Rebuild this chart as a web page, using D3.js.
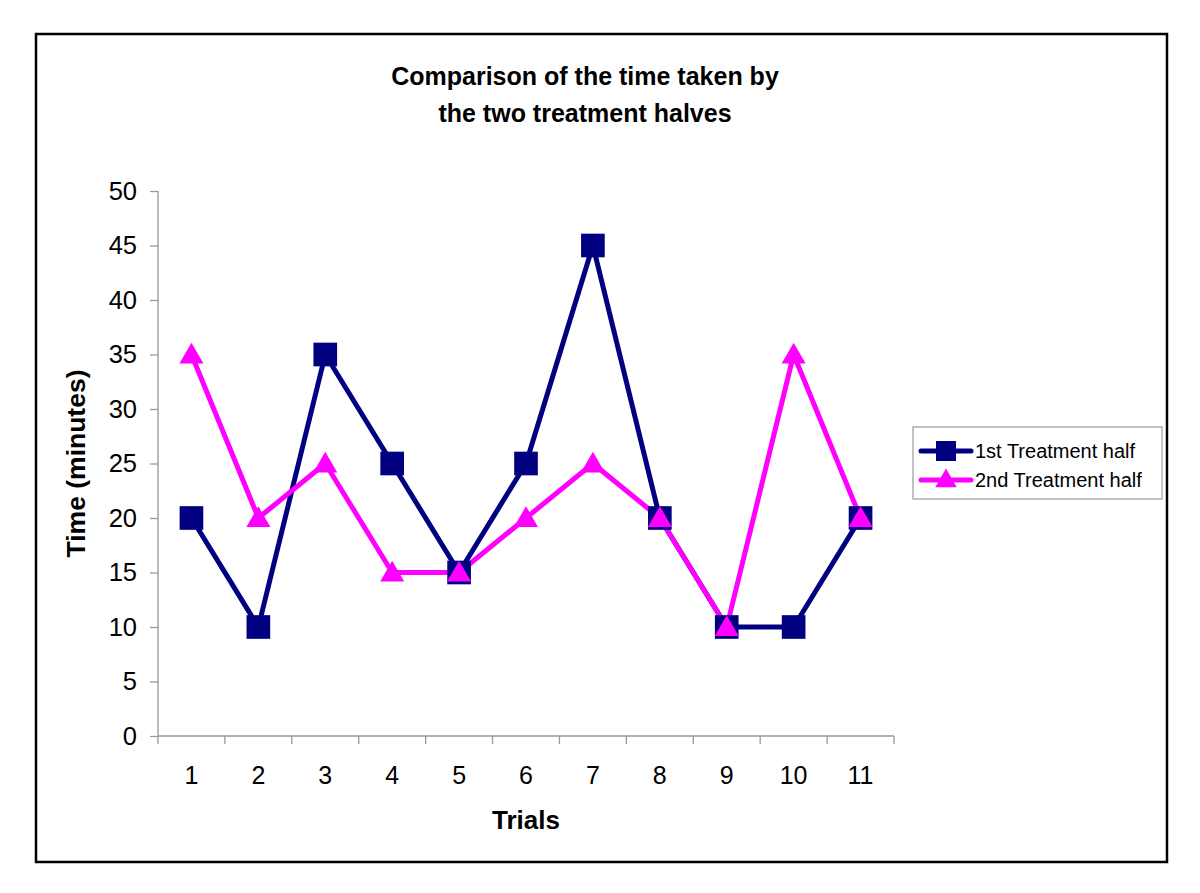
<!doctype html>
<html lang="en">
<head>
<meta charset="UTF-8">
<title>Comparison of the time taken</title>
<script src="https://d3js.org/d3.v7.min.js"></script>
<style>
    body { margin: 0; background: #fff; }
    text { font-family: "Liberation Sans", Arial, sans-serif; fill: #000; }
</style>
</head>
<body>
<svg id="chart" width="1200" height="893"></svg>
<script>
// data
var trials = ["1", "2", "3", "4", "5", "6", "7", "8", "9", "10", "11"];
var firstHalf = [20, 10, 35, 25, 15, 25, 45, 20, 10, 10, 20];
var secondHalf = [35, 20, 25, 15, 15, 20, 25, 20, 10, 35, 20];
var yTicks = [0, 5, 10, 15, 20, 25, 30, 35, 40, 45, 50];
var seriesNames = ["1st Treatment half", "2nd Treatment half"];

var navy = "#000080", pink = "#ff00ff";

var svg = d3.select("#chart");

// outer frame
svg.append("rect")
    .attr("x", 36).attr("y", 34)
    .attr("width", 1131).attr("height", 828)
    .attr("fill", "none").attr("stroke", "#000").attr("stroke-width", 2.5);

// title
svg.append("text")
    .attr("x", 585).attr("y", 85)
    .attr("text-anchor", "middle")
    .style("font-size", "25px").style("font-weight", "bold")
    .text("Comparison of the time taken by");
svg.append("text")
    .attr("x", 585).attr("y", 122)
    .attr("text-anchor", "middle")
    .style("font-size", "25px").style("font-weight", "bold")
    .text("the two treatment halves");

// plot box (window.top is reserved, so prefixed names)
var pLeft = 158, pRight = 894, pTop = 191, pBottom = 736;

var x = d3.scaleBand().domain(trials).range([pLeft, pRight]);
var y = d3.scaleLinear().domain([0, 50]).range([pBottom, pTop]);

// y axis
var yAxis = svg.append("g")
    .attr("transform", "translate(" + pLeft + ",0)")
    .call(d3.axisLeft(y).tickValues(yTicks).tickSize(8).tickPadding(13));
yAxis.selectAll("path, line").attr("stroke", "#999").attr("stroke-width", 1.3);
yAxis.select(".domain").attr("d", "M0," + pTop + "V" + pBottom);
yAxis.selectAll("text")
    .attr("fill", "#000")
    .style("font-size", "25.5px")
    .style("font-family", "Liberation Sans, Arial, sans-serif");

// x axis: ticks sit on the category edges
var xg = svg.append("g").attr("transform", "translate(0," + pBottom + ")");
xg.append("line")
    .attr("x1", pLeft).attr("x2", pRight)
    .attr("stroke", "#999").attr("stroke-width", 1.3);
var edges = trials.map(function (d) { return x(d); }).concat([pRight]);
xg.selectAll(".edge").data(edges).enter().append("line")
    .attr("class", "edge")
    .attr("x1", function (d) { return d; }).attr("x2", function (d) { return d; })
    .attr("y1", 0).attr("y2", 8)
    .attr("stroke", "#999").attr("stroke-width", 1.3);
xg.selectAll(".lbl").data(trials).enter().append("text")
    .attr("class", "lbl")
    .attr("x", function (d) { return x(d) + x.bandwidth() / 2; })
    .attr("y", 48)
    .attr("text-anchor", "middle")
    .style("font-size", "25px")
    .text(function (d) { return d; });

// axis titles
svg.append("text")
    .attr("x", (pLeft + pRight) / 2).attr("y", 829)
    .attr("text-anchor", "middle")
    .style("font-size", "26px").style("font-weight", "bold")
    .text("Trials");
svg.append("text")
    .attr("transform", "translate(85," + (pTop + pBottom) / 2 + ") rotate(-90)")
    .attr("text-anchor", "middle")
    .style("font-size", "26.5px").style("font-weight", "bold")
    .text("Time (minutes)");

var cx = function (d, i) { return x(trials[i]) + x.bandwidth() / 2; };
var line = d3.line().x(cx).y(function (d) { return y(d); });

var square = d3.symbol().type(d3.symbolSquare).size(560);
var triangle = d3.symbol().type(d3.symbolTriangle).size(250);

// 1st half
svg.append("path").datum(firstHalf)
    .attr("d", line).attr("fill", "none")
    .attr("stroke", navy).attr("stroke-width", 5).attr("stroke-linejoin", "round");
// 2nd half
svg.append("path").datum(secondHalf)
    .attr("d", line).attr("fill", "none")
    .attr("stroke", pink).attr("stroke-width", 5).attr("stroke-linejoin", "round");

svg.selectAll(".sq").data(firstHalf).enter().append("path")
    .attr("class", "sq")
    .attr("transform", function (d, i) { return "translate(" + cx(d, i) + "," + y(d) + ")"; })
    .attr("d", square).attr("fill", navy);

svg.selectAll(".tri").data(secondHalf).enter().append("path")
    .attr("class", "tri")
    .attr("transform", function (d, i) { return "translate(" + cx(d, i) + "," + (y(d) + 2) + ")"; })
    .attr("d", triangle).attr("fill", pink);

// legend
var lg = svg.append("g").attr("transform", "translate(913,427)");
lg.append("rect")
    .attr("width", 249).attr("height", 72)
    .attr("fill", "#fff").attr("stroke", "#999").attr("stroke-width", 1.2);
var rows = [
    {name: seriesNames[0], color: navy, sym: d3.symbol().type(d3.symbolSquare).size(400)},
    {name: seriesNames[1], color: pink, sym: d3.symbol().type(d3.symbolTriangle).size(200)}
];
rows.forEach(function (r, i) {
    var yy = 24 + i * 29;
    lg.append("line")
        .attr("x1", 8).attr("x2", 58).attr("y1", yy).attr("y2", yy)
        .attr("stroke", r.color).attr("stroke-width", 5).attr("stroke-linecap", "round");
    lg.append("path")
        .attr("transform", "translate(33," + (yy + (i ? 1 : 0)) + ")")
        .attr("d", r.sym()).attr("fill", r.color);
    lg.append("text")
        .attr("x", 62).attr("y", yy + 7)
        .style("font-size", "20px")
        .text(r.name);
});
</script>
</body>
</html>
